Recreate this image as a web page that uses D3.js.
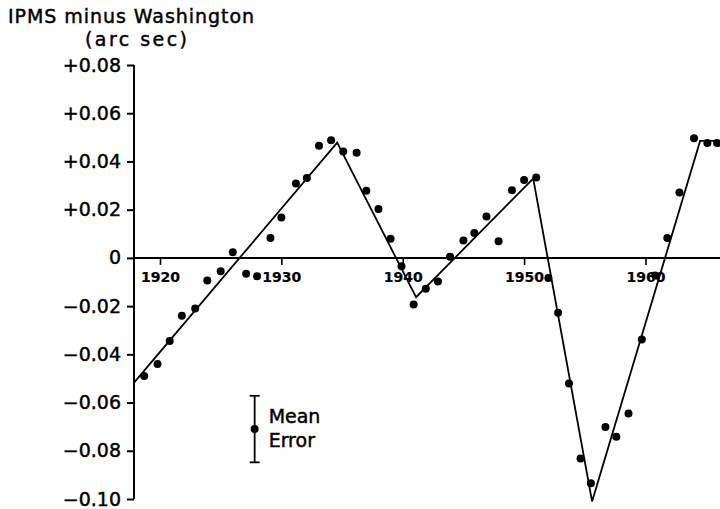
<!DOCTYPE html>
<html>
<head>
    <meta charset="utf-8">
    <title>IPMS minus Washington</title>
    <script src="https://cdn.jsdelivr.net/npm/d3@7"></script>
    <style>
        body { margin: 0; background: #fff; }
        svg { display: block; font-family: "DejaVu Sans", sans-serif; }
        svg text { stroke: #000; stroke-width: 0.45px; fill: #000; }
    </style>
</head>
<body>
    <svg width="720" height="509"></svg>
    <script>
        // observed yearly differences (arc sec)
        const years = [1918.7, 1919.8, 1920.8, 1921.8, 1922.9, 1923.9, 1925.0, 1926.0, 1927.1, 1928.0,
            1929.1, 1930.0, 1931.2, 1932.1, 1933.1, 1934.1, 1935.1, 1936.2, 1937.0, 1938.0,
            1939.0, 1939.9, 1940.9, 1941.9, 1942.9, 1943.9, 1945.0, 1945.9, 1946.9, 1947.9,
            1949.0, 1950.0, 1951.0, 1952.0, 1952.8, 1953.7, 1954.65, 1955.5, 1956.7, 1957.6,
            1958.6, 1959.7, 1960.8, 1961.8, 1962.8, 1964.0, 1965.1, 1965.9]
        const diffs = [-0.049, -0.044, -0.0345, -0.024, -0.021, -0.0094, -0.0055, 0.0023, -0.0066, -0.0076,
            0.0083, 0.0168, 0.0309, 0.0331, 0.0465, 0.0488, 0.0441, 0.0436, 0.0278, 0.0203,
            0.0079, -0.0035, -0.0193, -0.0128, -0.0098, 0.0005, 0.0072, 0.0103, 0.0172, 0.0069,
            0.0281, 0.0323, 0.0333, -0.0083, -0.0228, -0.0521, -0.0832, -0.0935, -0.0701, -0.0742,
            -0.0645, -0.0338, -0.0073, 0.0083, 0.0271, 0.0496, 0.0476, 0.0476]

        // fitted broken line
        const fitYears = [1917.9, 1934.6, 1941.1, 1950.75, 1955.6, 1964.5, 1966.2]
        const fitDiffs = [-0.0515, 0.0478, -0.0163, 0.0329, -0.101, 0.0485, 0.0485]

        const yTicks = [0.08, 0.06, 0.04, 0.02, 0, -0.02, -0.04, -0.06, -0.08, -0.10]
        const yTickLabels = ['+0.08', '+0.06', '+0.04', '+0.02', '0', '\u22120.02', '\u22120.04', '\u22120.06', '\u22120.08', '\u22120.10']
        const xTicks = [1920, 1930, 1940, 1950, 1960]

        const meanErrorAt = [1927.8, -0.071]
        const meanError = 0.0138

        const svg = d3.select('svg')
        const x = d3.scaleLinear().domain([1917.86, 1966.14]).range([134, 720])
        const y = d3.scaleLinear().domain([-0.10, 0.08]).range([499, 65])

        // title
        svg.append('text').attr('x', 8).attr('y', 23)
            .attr('font-size', 19).attr('textLength', 246).attr('lengthAdjust', 'spacing')
            .text('IPMS minus Washington')
        svg.append('text').attr('x', 85).attr('y', 46)
            .attr('font-size', 19).attr('textLength', 102).attr('lengthAdjust', 'spacing')
            .text('(arc sec)')

        // y axis
        const yAxis = svg.append('g').attr('transform', `translate(${x.range()[0]},0)`)
            .call(d3.axisLeft(y).tickValues(yTicks).tickSize(7).tickPadding(6)
                .tickFormat((d, i) => yTickLabels[i]))
        yAxis.select('.domain').remove()
        yAxis.append('line').attr('y1', y(0.08)).attr('y2', y(-0.10))
            .attr('stroke', '#000').attr('stroke-width', 2)
        yAxis.selectAll('.tick line').attr('stroke-width', 2)
        yAxis.selectAll('.tick text').attr('font-size', 19).attr('fill', '#000')
            .attr('font-family', '"DejaVu Sans", sans-serif')

        // x axis along zero line
        const xAxis = svg.append('g').attr('transform', `translate(0,${y(0)})`)
            .call(d3.axisBottom(x).tickValues(xTicks).tickSize(7).tickPadding(7)
                .tickFormat(d3.format('d')))
        xAxis.select('.domain').remove()
        xAxis.append('line').attr('x1', x.range()[0]).attr('x2', x.range()[1])
            .attr('stroke', '#000').attr('stroke-width', 2)
        xAxis.selectAll('.tick line').attr('stroke-width', 1.6)
        xAxis.selectAll('.tick text').attr('font-size', 14).attr('font-weight', 'bold')
            .attr('fill', '#000').attr('font-family', '"DejaVu Sans", sans-serif')
            .style('stroke-width', '0.2px')

        // fitted line
        const line = d3.line().x(d => x(d[0])).y(d => y(d[1]))
        svg.append('path')
            .datum(d3.zip(fitYears, fitDiffs))
            .attr('d', line)
            .attr('fill', 'none')
            .attr('stroke', '#000')
            .attr('stroke-width', 1.8)
            .attr('stroke-linejoin', 'miter')

        // observations
        svg.selectAll('.pt').data(d3.zip(years, diffs))
            .join('circle')
            .attr('class', 'pt')
            .attr('cx', d => x(d[0]))
            .attr('cy', d => y(d[1]))
            .attr('r', 4)
            .attr('fill', '#000')

        // mean error key
        const key = svg.append('g')
        const kx = x(meanErrorAt[0])
        const kTop = y(meanErrorAt[1] + meanError)
        const kBot = y(meanErrorAt[1] - meanError)
        key.append('line').attr('x1', kx).attr('x2', kx).attr('y1', kTop).attr('y2', kBot)
            .attr('stroke', '#000').attr('stroke-width', 1.8)
        key.selectAll('.cap').data([kTop, kBot]).join('line')
            .attr('class', 'cap')
            .attr('x1', kx - 5).attr('x2', kx + 5)
            .attr('y1', d => d).attr('y2', d => d)
            .attr('stroke', '#000').attr('stroke-width', 1.8)
        key.append('circle').attr('cx', kx).attr('cy', y(meanErrorAt[1])).attr('r', 4)
        key.append('text').attr('x', kx + 14).attr('y', y(meanErrorAt[1]) - 6)
            .attr('font-size', 19).text('Mean')
        key.append('text').attr('x', kx + 14).attr('y', y(meanErrorAt[1]) + 18)
            .attr('font-size', 19).text('Error')
    </script>
</body>
</html>
